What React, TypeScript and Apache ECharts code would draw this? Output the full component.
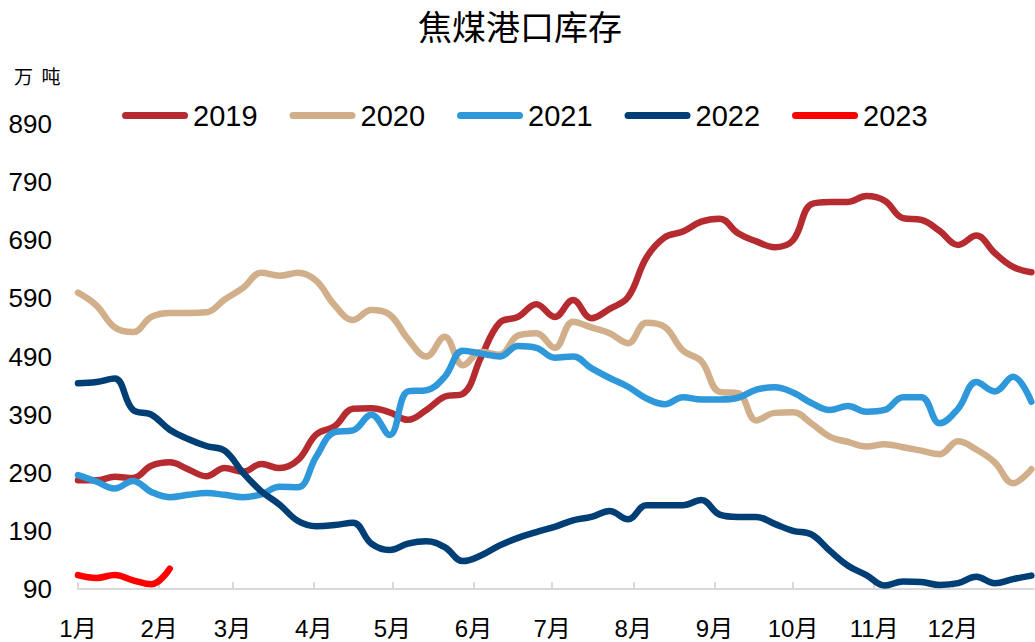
import React, { useEffect, useRef } from "react";
import * as echarts from "echarts";

const TITLE = "焦煤港口库存";
const UNIT = "万  吨";
const MONTH_LABELS = ["1月", "2月", "3月", "4月", "5月", "6月", "7月", "8月", "9月", "10月", "11月", "12月"];
const MONTH_START_DAYS = [0, 31, 59, 90, 120, 151, 181, 212, 243, 273, 304, 334];
const DAYS_IN_AXIS = 366;
const WEEK_STEP = 7;
const Y_MIN = 90;
const Y_MAX = 890;
const Y_INTERVAL = 100;

const YEARS = ["2019", "2020", "2021", "2022", "2023"];
const COLORS = ["#B52B2F", "#D2AF8B", "#2E98DB", "#003E76", "#FF0000"];

// weekly values (万吨)
const v2019 = [277, 277, 283, 281, 302, 308, 296, 284, 298, 292, 305, 298, 312, 356, 370, 400, 401, 394, 381, 398, 421, 426, 490, 548, 558, 580, 558, 587, 556, 572, 592, 660, 695, 705, 722, 727, 702, 688, 678, 690, 752, 756, 756, 766, 758, 728, 725, 706, 682, 698, 668, 644, 635];
const v2020 = [600, 578, 540, 532, 558, 565, 565, 566, 588, 608, 634, 629, 634, 620, 578, 553, 570, 562, 520, 490, 524, 475, 498, 493, 526, 530, 505, 550, 540, 530, 513, 548, 541, 500, 482, 429, 427, 380, 393, 394, 375, 352, 343, 335, 339, 334, 328, 322, 344, 330, 308, 272, 296];
const v2021 = [286, 275, 263, 276, 257, 248, 252, 255, 252, 248, 253, 266, 265, 318, 360, 363, 390, 355, 430, 432, 455, 500, 495, 490, 508, 505, 488, 490, 470, 453, 438, 418, 408, 420, 416, 416, 419, 433, 437, 428, 410, 398, 405, 395, 398, 420, 420, 375, 400, 446, 430, 455, 412];
const v2022 = [444, 446, 452, 398, 390, 364, 348, 336, 328, 290, 258, 235, 207, 198, 200, 204, 168, 157, 168, 172, 162, 138, 148, 165, 178, 188, 197, 208, 214, 224, 210, 234, 234, 234, 243, 218, 214, 214, 202, 190, 184, 156, 130, 114, 96, 103, 102, 97, 100, 111, 100, 107, 113];
const v2023 = [114, 109, 114, 105, 98, 125];

const SERIES_VALUES = [v2019, v2020, v2021, v2022, v2023];

const LEGEND_ICON = "path://M3.5,0 L62.5,0 A3.5,3.5 0 0 1 62.5,7 L3.5,7 A3.5,3.5 0 0 1 3.5,0 Z";

export default function App() {
  const ref = useRef<HTMLDivElement>(null);

  useEffect(() => {
    if (!ref.current) return;
    const chart = echarts.init(ref.current, undefined, { renderer: "svg" });

    const categories = Array.from({ length: DAYS_IN_AXIS }, (_, d) => {
      const m = MONTH_START_DAYS.indexOf(d);
      return m >= 0 ? MONTH_LABELS[m] : "";
    });
    const isMonthStart = (idx: number) => MONTH_START_DAYS.indexOf(idx) >= 0;

    const series = YEARS.map((name, k) => ({
      name,
      type: "line",
      smooth: 0.4,
      symbol: "none",
      data: SERIES_VALUES[k].map((v, i) => [i * WEEK_STEP, v]),
      lineStyle: { width: 6.5, color: COLORS[k], cap: "round", join: "round" },
      itemStyle: { color: COLORS[k] },
    }));

    chart.setOption({
      animation: false,
      backgroundColor: "#ffffff",
      title: {
        text: TITLE,
        left: 413,
        top: 3,
        textStyle: {
          fontSize: 34,
          fontWeight: "normal",
          color: "#000",
          fontFamily: "Noto Sans CJK SC",
        },
      },
      graphic: [
        {
          type: "text",
          left: 14,
          top: 66,
          style: {
            text: UNIT,
            fontSize: 19,
            fill: "#000",
            fontFamily: "Noto Sans CJK SC",
          },
        },
      ],
      legend: {
        data: YEARS,
        left: 117,
        top: 96,
        itemWidth: 66,
        itemHeight: 7,
        itemGap: 32,
        icon: LEGEND_ICON,
        textStyle: {
          fontSize: 29,
          color: "#000",
          fontFamily: "Liberation Sans",
        },
      },
      grid: { left: 78, right: 1, top: 124, bottom: 53, containLabel: false },
      xAxis: {
        type: "category",
        boundaryGap: false,
        data: categories,
        axisLine: { lineStyle: { color: "#D9D9D9", width: 2 } },
        axisTick: {
          show: true,
          inside: true,
          length: 7,
          interval: (idx: number) => isMonthStart(idx),
          lineStyle: { color: "#D9D9D9", width: 2 },
        },
        axisLabel: {
          interval: (idx: number) => isMonthStart(idx),
          margin: 27,
          fontSize: 24,
          color: "#000",
          fontFamily: "Liberation Sans, Noto Sans CJK SC",
        },
        splitLine: { show: false },
      },
      yAxis: {
        type: "value",
        min: Y_MIN,
        max: Y_MAX,
        interval: Y_INTERVAL,
        axisLine: { show: false },
        axisTick: { show: false },
        splitLine: { show: false },
        axisLabel: {
          margin: 26,
          fontSize: 26,
          color: "#000",
          fontFamily: "Liberation Sans",
        },
      },
      series,
    });

    return () => chart.dispose();
  }, []);

  return (
    <div
      ref={ref}
      style={{ position: "fixed", left: 0, top: 0, width: 1035, height: 642, background: "#fff" }}
    />
  );
}
